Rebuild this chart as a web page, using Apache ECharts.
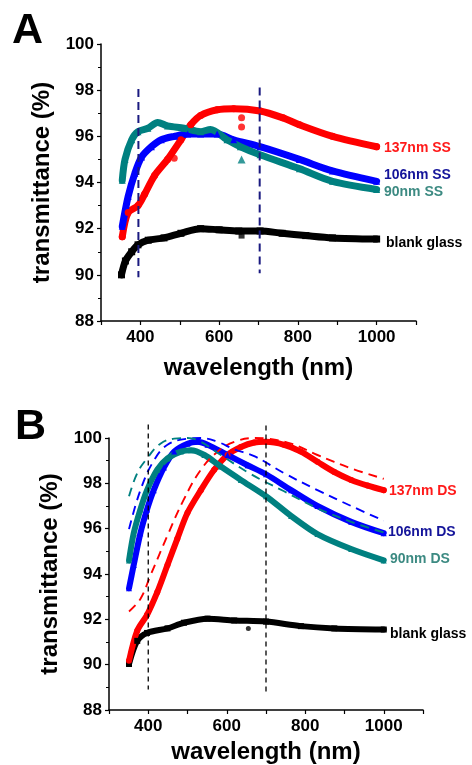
<!DOCTYPE html>
<html>
<head>
<meta charset="utf-8">
<script src="https://cdn.jsdelivr.net/npm/echarts@6/dist/echarts.min.js"></script>
<style>
  html, body { margin: 0; padding: 0; background: #fff; }
  #chart { width: 472px; height: 765px; }
</style>
</head>
<body>
<div id="chart"></div>
<script>
// Axis ticks (both panels share the same scales)
const xTickLabels = [400, 600, 800, 1000];
const yTickLabels = [88, 90, 92, 94, 96, 98, 100];

// Panel A: single-sided coatings, [wavelength nm, transmittance %]
const aBlank = [[352,90.0],[362,90.6],[378,91.0],[394,91.3],[420,91.5],[460,91.6],[503,91.8],[553,92.0],[600,91.95],[650,91.9],[704,91.9],[760,91.8],[820,91.7],[888,91.6],[1000,91.55]];
const a137 = [[354,91.65],[369,92.7],[394,93.0],[411,93.5],[436,94.3],[469,95.0],[503,95.85],[528,96.5],[553,96.9],[595,97.15],[637,97.2],[704,97.1],[762,96.8],[804,96.5],[888,96.0],[1000,95.55]];
const a106 = [[354,92.1],[369,93.4],[386,94.4],[403,95.1],[428,95.55],[453,95.85],[486,96.0],[520,96.1],[553,96.1],[595,96.1],[637,95.85],[704,95.55],[804,95.0],[888,94.5],[1000,94.05]];
const a90 = [[354,94.1],[361,95.0],[378,95.85],[394,96.2],[419,96.35],[444,96.6],[469,96.45],[511,96.35],[553,96.2],[578,96.3],[620,95.85],[654,95.55],[704,95.2],[804,94.6],[888,94.05],[1000,93.7]];
const aOutliers137 = [[657,96.4],[657,96.8],[486,95.05]];
const aOutliers90 = [[657,95.0]];
const aOutliersBlank = [[657,91.7]];
const aMarkers = [395, 703];

// Panel B: double-sided coatings, measured and modelled
const bBlank = [[351,90.03],[372,91.05],[397,91.4],[449,91.6],[491,91.85],[551,92.03],[619,91.95],[700,91.9],[789,91.7],[874,91.6],[1000,91.55]];
const b137 = [[351,90.17],[372,91.5],[397,92.2],[423,93.2],[449,94.4],[474,95.55],[500,96.7],[534,97.7],[568,98.6],[602,99.25],[636,99.6],[670,99.8],[700,99.83],[746,99.7],[789,99.4],[831,98.95],[874,98.5],[917,98.15],[959,97.9],[1000,97.7]];
const b137Fit = [[351,92.35],[380,92.9],[406,93.95],[449,95.7],[491,97.3],[534,98.6],[577,99.4],[619,99.83],[670,100.0],[704,99.97],[764,99.75],[831,99.25],[917,98.66],[1000,98.2]];
const b106 = [[351,93.37],[363,94.4],[380,95.8],[397,96.85],[414,97.7],[440,98.7],[466,99.4],[500,99.75],[526,99.83],[551,99.7],[602,99.25],[653,98.8],[700,98.4],[764,97.7],[831,97.0],[917,96.3],[1000,95.8]];
const b106Fit = [[351,95.98],[380,97.7],[414,99.0],[449,99.7],[500,99.97],[534,100.0],[577,99.83],[619,99.5],[670,99.2],[746,98.45],[831,97.7],[917,97.0],[1000,96.35]];
const b90 = [[351,94.6],[363,95.8],[380,96.85],[397,97.7],[423,98.6],[449,99.1],[483,99.4],[509,99.46],[543,99.25],[585,98.74],[636,98.15],[700,97.43],[764,96.56],[831,95.76],[917,95.1],[1000,94.6]];
const b90Fit = [[351,97.43],[372,98.45],[397,99.1],[431,99.75],[466,99.97],[500,100.0],[534,99.83],[585,99.25],[662,98.4],[746,97.65],[831,96.9],[917,96.3],[1000,95.83]];
const bOutliers106 = [[655,98.8]];
const bOutliersBlank = [[655,91.6]];
const bMarkers = [400, 700];

const RED = '#ff0000', BLUE = '#0000ff', TEAL = '#008080', BLACK = '#000000';
const FONT = '"Liberation Sans", Arial, Helvetica, sans-serif';

function xAxis(gridIndex, nameGap) {
  return {
    gridIndex, type: 'value', min: 300, max: 1100, interval: 100,
    name: 'wavelength (nm)', nameLocation: 'middle', nameGap,
    nameTextStyle: { fontFamily: FONT, fontWeight: 'bold', fontSize: 24, color: '#000' },
    axisLine: { show: true, lineStyle: { color: '#000', width: 1.5 } },
    axisTick: { show: true, inside: false, length: 4, lineStyle: { color: '#000', width: 1.2 } },
    axisLabel: {
      fontFamily: FONT, fontWeight: 'bold', fontSize: 17, color: '#000', margin: 8,
      showMinLabel: true, showMaxLabel: true,
      formatter: v => xTickLabels.includes(v) ? String(v) : ''
    },
    splitLine: { show: false }
  };
}
function yAxis(gridIndex, nameGap) {
  return {
    gridIndex, type: 'value', min: 88, max: 100, interval: 2,
    name: 'transmittance (%)', nameLocation: 'middle', nameGap,
    nameTextStyle: { fontFamily: FONT, fontWeight: 'bold', fontSize: 24, color: '#000' },
    axisLine: { show: true, lineStyle: { color: '#000', width: 1.5 } },
    axisTick: { show: true, inside: false, length: 4, lineStyle: { color: '#000', width: 1.2 } },
    minorTick: { show: true, splitNumber: 2, length: 3, lineStyle: { color: '#000', width: 1 } },
    axisLabel: {
      fontFamily: FONT, fontWeight: 'bold', fontSize: 17, color: '#000', margin: 7,
      formatter: v => yTickLabels.includes(v) ? String(v) : ''
    },
    splitLine: { show: false }
  };
}

function dataLine(idx, data, color, symbol, width) {
  return {
    type: 'line', xAxisIndex: idx, yAxisIndex: idx, data,
    smooth: 0.3, symbol, symbolSize: width, showSymbol: true,
    itemStyle: { color }, lineStyle: { color, width, cap: 'round', join: 'round' },
    z: 3, silent: true, animation: false
  };
}
function fitLine(idx, data, color) {
  return {
    type: 'line', xAxisIndex: idx, yAxisIndex: idx, data,
    smooth: 0.4, showSymbol: false,
    lineStyle: { color, width: 1.9, type: [9, 6] },
    z: 5, silent: true, animation: false
  };
}
function dots(idx, data, color, symbol, size) {
  return {
    type: 'scatter', xAxisIndex: idx, yAxisIndex: idx, data, symbol, symbolSize: size,
    itemStyle: { color }, z: 4, silent: true, animation: false
  };
}
function marker(idx, x, y0, y1, color, width, dash) {
  return {
    type: 'line', xAxisIndex: idx, yAxisIndex: idx, data: [[x, y0], [x, y1]],
    showSymbol: false, clip: false,
    lineStyle: { color, width, type: dash },
    z: 6, silent: true, animation: false
  };
}

const series = [
  // Panel A
  dataLine(0, aBlank, BLACK, 'rect', 7),
  dataLine(0, a137, RED, 'circle', 7),
  dataLine(0, a106, BLUE, 'triangle', 7),
  dataLine(0, a90, TEAL, 'triangle', 7),
  dots(0, aOutliers137, RED, 'circle', 7),
  dots(0, aOutliers90, TEAL, 'triangle', 8),
  dots(0, aOutliersBlank, BLACK, 'rect', 6),
  marker(0, aMarkers[0], 98.05, 89.9, '#1a1a80', 2, [8, 5]),
  marker(0, aMarkers[1], 98.12, 90.07, '#1a1a80', 2, [8, 5]),
  // Panel B
  dataLine(1, bBlank, BLACK, 'rect', 6),
  dataLine(1, b137, RED, 'circle', 6),
  dataLine(1, b106, BLUE, 'triangle', 6),
  dataLine(1, b90, TEAL, 'triangle', 6),
  fitLine(1, b137Fit, RED),
  fitLine(1, b106Fit, BLUE),
  fitLine(1, b90Fit, TEAL),
  dots(1, bOutliers106, BLUE, 'triangle', 6),
  dots(1, bOutliersBlank, BLACK, 'circle', 5),
  marker(1, bMarkers[0], 100.6, 88.9, '#000', 1.3, [5, 4]),
  marker(1, bMarkers[1], 100.55, 88.8, '#000', 1.3, [5, 4])
];

const chart = echarts.init(document.getElementById('chart'), null, { renderer: 'canvas' });
chart.setOption({
  backgroundColor: '#fff',
  animation: false,
  grid: [
    { left: 101, top: 44, width: 315, height: 277 },
    { left: 109, top: 438, width: 314, height: 275 }
  ],
  xAxis: [xAxis(0, 35), xAxis(1, 30)],
  yAxis: [yAxis(0, 45), yAxis(1, 44)],
  series,
  graphic: [
    { type: 'text', left: 12, top: 10, style: { text: 'A', fill: '#000', font: `bold 43px ${FONT}` } },
    { type: 'text', left: 15, top: 406, style: { text: 'B', fill: '#000', font: `bold 43px ${FONT}` } },
    { type: 'text', left: 384, top: 141, style: { text: '137nm SS', fill: '#ff1a1a', font: `bold 14px ${FONT}` } },
    { type: 'text', left: 384, top: 168, style: { text: '106nm SS', fill: '#14149a', font: `bold 14px ${FONT}` } },
    { type: 'text', left: 384, top: 185, style: { text: '90nm SS', fill: '#3c8a82', font: `bold 14px ${FONT}` } },
    { type: 'text', left: 386, top: 236, style: { text: 'blank glass', fill: '#000', font: `bold 14px ${FONT}` } },
    { type: 'text', left: 389, top: 484, style: { text: '137nm DS', fill: '#ff1a1a', font: `bold 14px ${FONT}` } },
    { type: 'text', left: 388, top: 525, style: { text: '106nm DS', fill: '#14149a', font: `bold 14px ${FONT}` } },
    { type: 'text', left: 390, top: 552, style: { text: '90nm DS', fill: '#3c8a82', font: `bold 14px ${FONT}` } },
    { type: 'text', left: 390, top: 627, style: { text: 'blank glass', fill: '#000', font: `bold 14px ${FONT}` } }
  ]
});
</script>
</body>
</html>
